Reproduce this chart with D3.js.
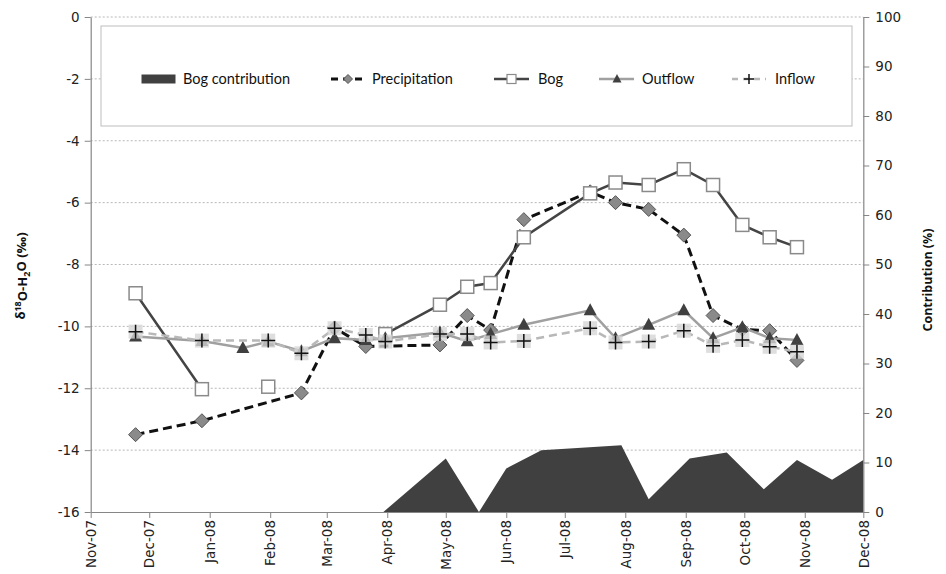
<!DOCTYPE html>
<html>
<head>
<meta charset="utf-8">
<script src="https://cdn.jsdelivr.net/npm/d3@7/dist/d3.min.js"></script>
<style>
  body { margin: 0; background: #fff; }
  svg { display: block; }
</style>
</head>
<body>
<svg id="chart" width="946" height="574"></svg>
<script>
// sampling dates (Nov 2007 - Oct 2008)
var precipDates = ["2007-11-24","2007-12-28","2008-02-17","2008-03-05","2008-03-21","2008-04-28","2008-05-12","2008-05-24","2008-06-10","2008-07-14","2008-07-27","2008-08-13","2008-08-31","2008-09-15","2008-09-30","2008-10-14","2008-10-28"];
var precipValues = [-13.5,-13.05,-12.15,-10.05,-10.65,-10.6,-9.65,-10.12,-6.55,-5.65,-6.0,-6.22,-7.05,-9.65,-10.1,-10.14,-11.1];

// null = no sample (breaks the line)
var bogDates = ["2007-11-24","2007-12-28","2008-01-15","2008-01-31","2008-03-05","2008-03-31","2008-04-28","2008-05-12","2008-05-24","2008-06-10","2008-07-14","2008-07-27","2008-08-13","2008-08-31","2008-09-15","2008-09-30","2008-10-14","2008-10-28"];
var bogValues = [-8.93,-12.03,null,-11.95,null,-10.25,-9.3,-8.72,-8.6,-7.12,-5.7,-5.35,-5.43,-4.92,-5.43,-6.72,-7.12,-7.44];

var outflowDates = ["2007-11-24","2007-12-28","2008-01-18","2008-01-31","2008-02-17","2008-03-05","2008-03-21","2008-03-31","2008-04-28","2008-05-12","2008-05-24","2008-06-10","2008-07-14","2008-07-27","2008-08-13","2008-08-31","2008-09-15","2008-09-30","2008-10-14","2008-10-28"];
var outflowValues = [-10.33,-10.47,-10.7,-10.49,-10.8,-10.38,-10.44,-10.38,-10.2,-10.48,-10.25,-9.95,-9.48,-10.38,-9.95,-9.48,-10.38,-10.03,-10.38,-10.44];

var inflowDates = ["2007-11-24","2007-12-28","2008-01-31","2008-02-17","2008-03-05","2008-03-21","2008-03-31","2008-04-28","2008-05-12","2008-05-24","2008-06-10","2008-07-14","2008-07-27","2008-08-13","2008-08-31","2008-09-15","2008-09-30","2008-10-14","2008-10-28"];
var inflowValues = [-10.17,-10.46,-10.46,-10.87,-10.06,-10.28,-10.49,-10.25,-10.25,-10.52,-10.47,-10.06,-10.52,-10.49,-10.14,-10.63,-10.44,-10.66,-10.82];

// bog contribution (%), right axis
var contribDates = ["2008-03-30","2008-05-01","2008-05-18","2008-06-01","2008-06-19","2008-07-30","2008-08-13","2008-09-03","2008-09-22","2008-10-11","2008-10-28","2008-11-15","2008-12-01"];
var contribValues = [0,10.8,0,8.8,12.5,13.5,2.6,10.8,12.0,4.6,10.5,6.5,10.5];

var monthTicks = ["2007-11-01","2007-12-01","2008-01-01","2008-02-01","2008-03-01","2008-04-01","2008-05-01","2008-06-01","2008-07-01","2008-08-01","2008-09-01","2008-10-01","2008-11-01","2008-12-01"];
var leftTicks = [0,-2,-4,-6,-8,-10,-12,-14,-16];
var rightTicks = [0,10,20,30,40,50,60,70,80,90,100];

var parse = d3.timeParse("%Y-%m-%d");
function zip(dates, vals) {
  return dates.map(function (d, i) { return { date: parse(d), value: vals[i] }; });
}

var svg = d3.select("#chart");
var plotL = 90.7, plotR = 863.3, plotT = 17, plotB = 512;

var x = d3.scaleTime().domain([parse("2007-11-01"), parse("2008-12-01")]).range([plotL, plotR]);
var yL = d3.scaleLinear().domain([-16, 0]).range([plotB, plotT]);
var yR = d3.scaleLinear().domain([0, 100]).range([plotB, plotT]);

var tickFont = "DejaVu Sans, Verdana, sans-serif";

// gridlines
svg.append("g").selectAll("line")
  .data(leftTicks.filter(function (v) { return v > -16; }))
  .enter().append("line")
  .attr("x1", plotL).attr("x2", plotR)
  .attr("y1", function (d) { return yL(d); })
  .attr("y2", function (d) { return yL(d); })
  .attr("stroke", "#b8b8b8")
  .attr("stroke-width", 1)
  .attr("stroke-dasharray", "2,2");

// area (bog contribution)
var contrib = zip(contribDates, contribValues);
svg.append("path")
  .datum(contrib)
  .attr("fill", "#404040")
  .attr("d", d3.area()
    .x(function (d) { return x(d.date); })
    .y0(plotB)
    .y1(function (d) { return yR(d.value); }));

// axes
function styleAxis(g) {
  g.selectAll(".domain").attr("stroke", "#868686").attr("stroke-width", 1.2);
  g.selectAll(".tick line").attr("stroke", "#868686");
  g.selectAll("text").attr("fill", "#222").style("font-family", tickFont).style("font-size", "13.5px");
}
var plainNum = function (d) { return String(d); };

var gl = svg.append("g").attr("transform", "translate(" + plotL + ",0)")
  .call(d3.axisLeft(yL).tickValues(leftTicks).tickFormat(plainNum).tickSize(6).tickPadding(5).tickSizeOuter(0));
styleAxis(gl);

var gr = svg.append("g").attr("transform", "translate(" + plotR + ",0)")
  .call(d3.axisRight(yR).tickValues(rightTicks).tickFormat(plainNum).tickSize(6).tickPadding(6).tickSizeOuter(0));
styleAxis(gr);

var gx = svg.append("g").attr("transform", "translate(0," + plotB + ")")
  .call(d3.axisBottom(x).tickValues(monthTicks.map(parse)).tickFormat(d3.timeFormat("%b-%y")).tickSize(6).tickSizeOuter(0));
styleAxis(gx);
gx.selectAll("text")
  .attr("transform", "rotate(-90)")
  .attr("text-anchor", "end")
  .attr("x", -8).attr("y", 0).attr("dy", "0.35em");

// marker shapes
var diamond = "M0,-7L7,0L0,7L-7,0Z";
var triangle = "M0,-7L6.5,5L-6.5,5Z";

function drawLine(data, color, width, dash) {
  var line = d3.line()
    .defined(function (d) { return d.value != null; })
    .x(function (d) { return x(d.date); })
    .y(function (d) { return yL(d.value); });
  svg.append("path").datum(data)
    .attr("fill", "none")
    .attr("stroke", color)
    .attr("stroke-width", width)
    .attr("stroke-dasharray", dash || null)
    .attr("d", line);
}

var precip = zip(precipDates, precipValues);
var bog = zip(bogDates, bogValues);
var outflow = zip(outflowDates, outflowValues);
var inflow = zip(inflowDates, inflowValues);

// precipitation
drawLine(precip, "#111", 3, "9,5");
svg.append("g").selectAll("path").data(precip).enter().append("path")
  .attr("d", diamond)
  .attr("transform", function (d) { return "translate(" + x(d.date) + "," + yL(d.value) + ")"; })
  .attr("fill", "#8a8a8a").attr("stroke", "#555").attr("stroke-width", 1);

// bog
drawLine(bog, "#444", 2.5);
svg.append("g").selectAll("rect").data(bog.filter(function (d) { return d.value != null; })).enter().append("rect")
  .attr("x", function (d) { return x(d.date) - 6.5; })
  .attr("y", function (d) { return yL(d.value) - 6.5; })
  .attr("width", 13).attr("height", 13)
  .attr("fill", "#fff").attr("stroke", "#8a8a8a").attr("stroke-width", 1.5);

// outflow
drawLine(outflow, "#a0a0a0", 2.5);
svg.append("g").selectAll("path").data(outflow).enter().append("path")
  .attr("d", triangle)
  .attr("transform", function (d) { return "translate(" + x(d.date) + "," + yL(d.value) + ")"; })
  .attr("fill", "#404040");

// inflow
drawLine(inflow, "#b8b8b8", 2.5, "8,5");
var plus = svg.append("g").selectAll("g").data(inflow).enter().append("g")
  .attr("transform", function (d) { return "translate(" + x(d.date) + "," + yL(d.value) + ")"; });
plus.append("rect").attr("x", -7).attr("y", -7).attr("width", 14).attr("height", 14)
  .attr("fill", "#d6d6d6").attr("opacity", 0.8);
plus.append("path").attr("d", "M-7,0H7M0,-7V7").attr("stroke", "#111").attr("stroke-width", 1.5);

// legend
var lg = svg.append("g");
lg.append("rect").attr("x", 101).attr("y", 26).attr("width", 751).attr("height", 100)
  .attr("fill", "#fff").attr("stroke", "#bdbdbd").attr("stroke-width", 1);
var ly = 79;
var legendFont = "Lato, 'Open Sans', sans-serif";
function legendText(tx, label) {
  lg.append("text").attr("x", tx).attr("y", ly).attr("dy", "0.35em")
    .style("font-family", legendFont).style("font-size", "14.5px").attr("fill", "#111").text(label);
}
lg.append("rect").attr("x", 141.5).attr("y", ly - 4.5).attr("width", 34).attr("height", 9).attr("fill", "#404040");
legendText(183, "Bog contribution");

lg.append("line").attr("x1", 331).attr("x2", 365).attr("y1", ly).attr("y2", ly)
  .attr("stroke", "#111").attr("stroke-width", 3).attr("stroke-dasharray", "7,5");
lg.append("path").attr("d", "M0,-4.5L4.5,0L0,4.5L-4.5,0Z").attr("transform", "translate(348," + ly + ")")
  .attr("fill", "#8a8a8a").attr("stroke", "#555");
legendText(372, "Precipitation");

lg.append("line").attr("x1", 494).attr("x2", 529).attr("y1", ly).attr("y2", ly)
  .attr("stroke", "#444").attr("stroke-width", 2.5);
lg.append("rect").attr("x", 507).attr("y", ly - 4.5).attr("width", 9).attr("height", 9)
  .attr("fill", "#fff").attr("stroke", "#8a8a8a").attr("stroke-width", 1.2);
legendText(538, "Bog");

lg.append("line").attr("x1", 599).attr("x2", 634).attr("y1", ly).attr("y2", ly)
  .attr("stroke", "#a0a0a0").attr("stroke-width", 2.5);
lg.append("path").attr("d", "M0,-5L4.5,3.5L-4.5,3.5Z").attr("transform", "translate(617," + ly + ")")
  .attr("fill", "#404040");
legendText(642, "Outflow");

lg.append("line").attr("x1", 732).attr("x2", 766).attr("y1", ly).attr("y2", ly)
  .attr("stroke", "#b8b8b8").attr("stroke-width", 2.5).attr("stroke-dasharray", "6,5");
lg.append("path").attr("d", "M-5,0H5M0,-5V5").attr("transform", "translate(749," + ly + ")")
  .attr("stroke", "#111").attr("stroke-width", 1.5);
legendText(775, "Inflow");

// axis titles
var yTitle = svg.append("text")
  .attr("transform", "translate(25,276) rotate(-90)")
  .attr("text-anchor", "middle")
  .style("font-family", "'Open Sans', sans-serif").style("font-size", "13px").style("font-weight", "bold")
  .attr("fill", "#111");
yTitle.append("tspan").text("δ");
yTitle.append("tspan").attr("dy", "-0.45em").style("font-size", "9px").text("18");
yTitle.append("tspan").attr("dy", "0.45em").text("O-H");
yTitle.append("tspan").attr("dy", "0.3em").style("font-size", "9px").text("2");
yTitle.append("tspan").attr("dy", "-0.3em").text("O (‰)");

svg.append("text")
  .attr("transform", "translate(932,280) rotate(-90)")
  .attr("text-anchor", "middle")
  .style("font-family", "'Open Sans', sans-serif").style("font-size", "12.5px").style("font-weight", "bold")
  .attr("fill", "#111")
  .text("Contribution (%)");
</script>
</body>
</html>
